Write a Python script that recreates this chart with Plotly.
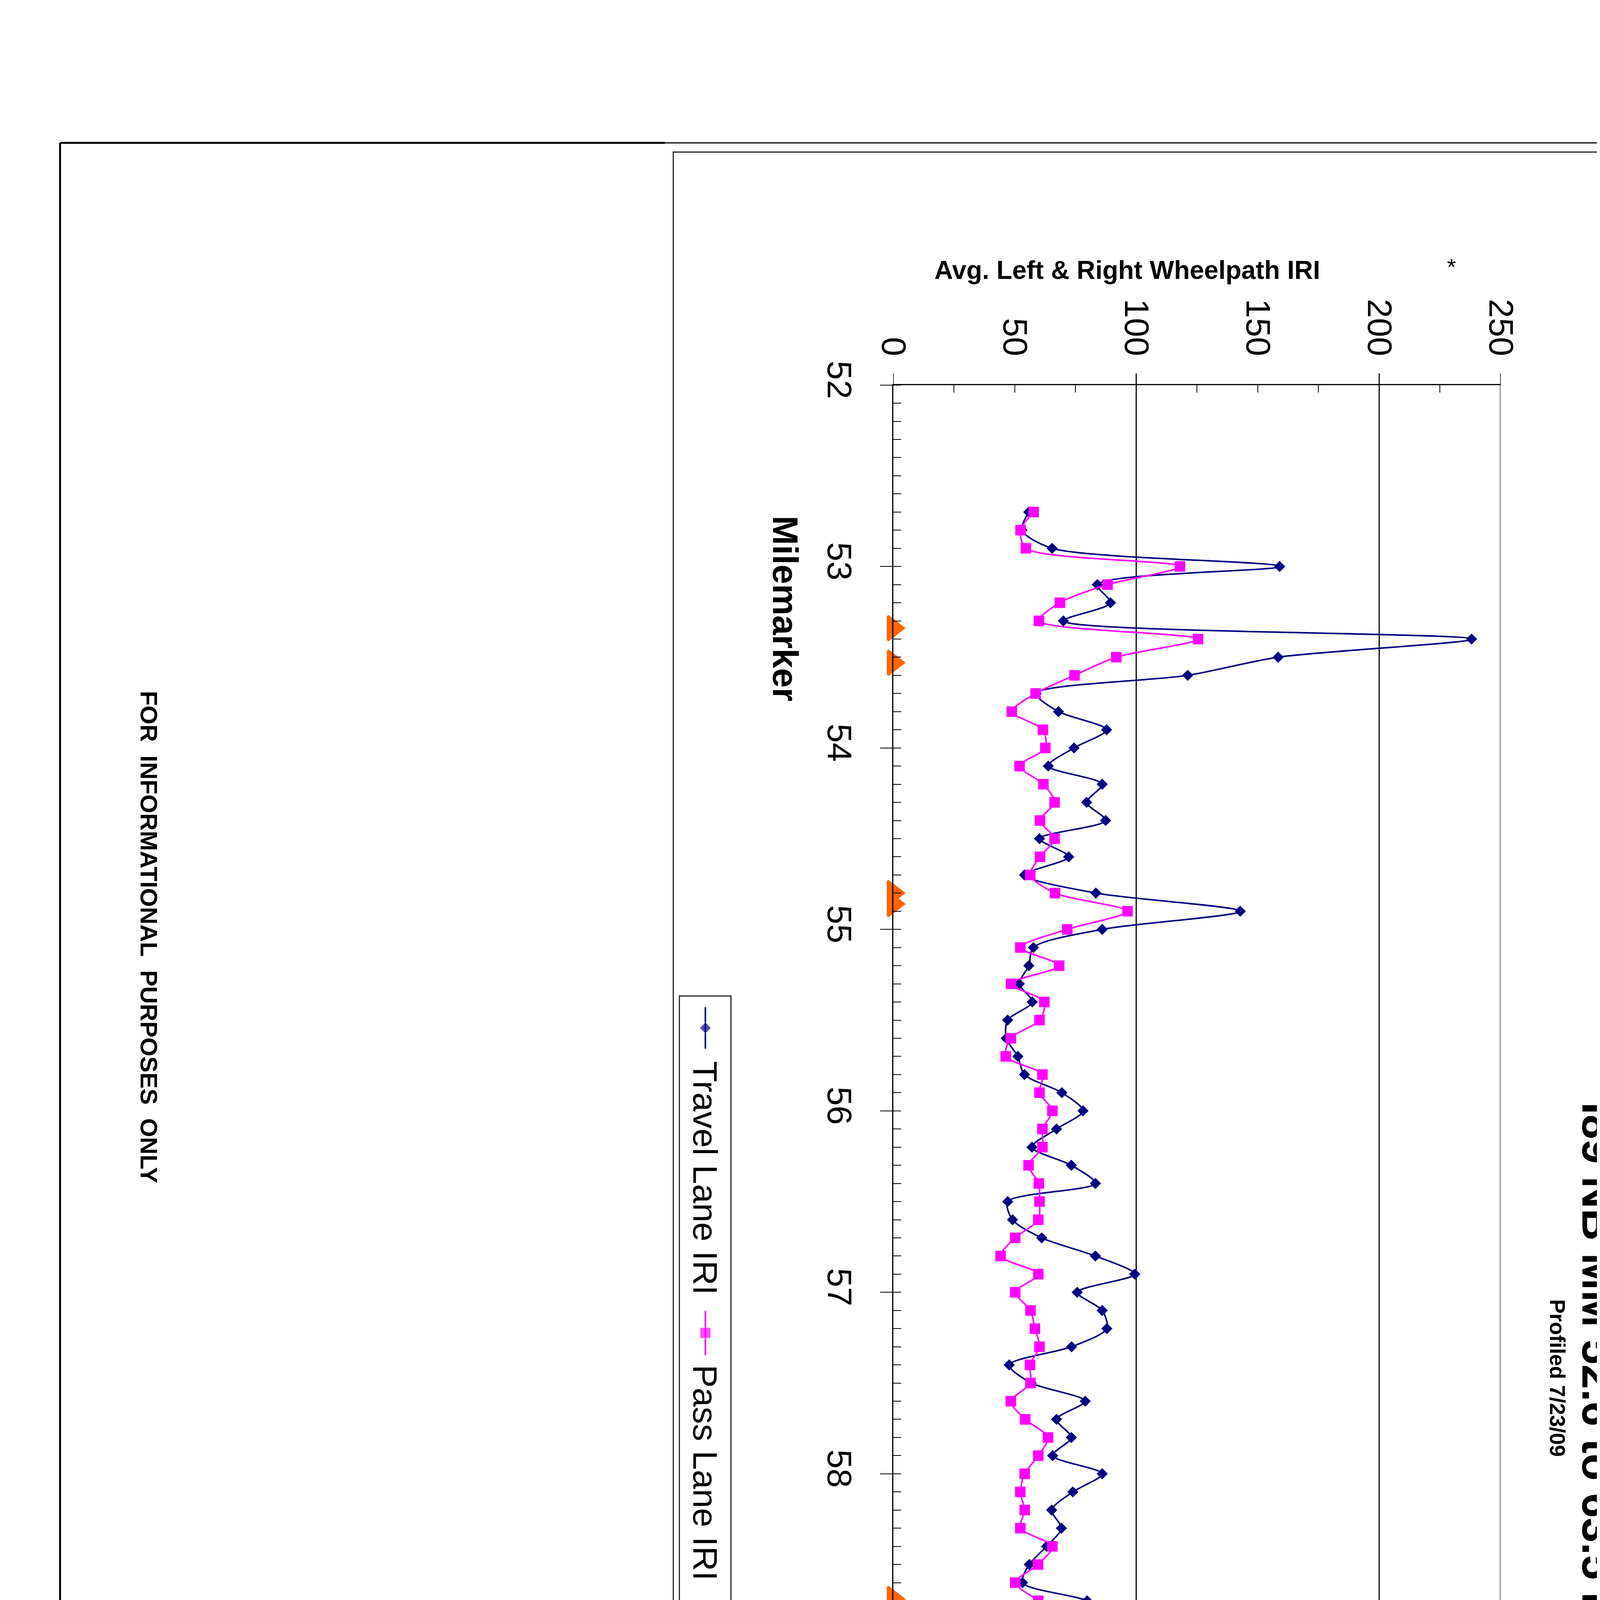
import plotly.graph_objects as go

W, H = 4400, 6800
K = 1.0  # render scale

# milepost of every reading (0.1 mile steps)
mileposts = [round(52.7 + 0.1 * i, 1) for i in range(109)]

travel_iri = [55.8, 53.0, 65.4, 159.0, 84.0, 89.4, 70.0, 238.0, 158.4, 121.2,
              58.8, 68.0, 87.8, 74.4, 63.8, 86.0, 79.6, 87.4, 60.2, 72.2,
              54.0, 83.4, 142.8,
              86.0, 57.7, 55.8, 51.9, 57.2, 47.1, 46.5, 51.3, 54.0, 69.4,
              78.1, 67.2, 57.1, 73.3, 83.2, 47.1, 49.1, 61.1, 83.2, 99.4,
              75.7, 86.0, 87.9, 73.4, 47.7, 56.8, 79.0, 67.2, 73.3, 65.6,
              86.0, 73.9, 65.2, 69.2, 63.1, 56.0, 53.2, 79.8, 91.1, 61.7,
              57.2, 56.9, 83.2, 69.8, 99.8, 77.1, 53.5, 65.3, 55.5, 57.2,
              56.0, 65.3, 64.1, 51.8, 53.2, 61.3, 53.8, 49.8, 59.4, 65.6,
              65.2, 83.8, 83.2, 81.8, 74.0, 56.0, 79.9, 85.2, 94.1, 59.3,
              60.7, 69.4, 90.0, 75.9, 57.2, 64.1, 67.3, 43.1, 53.5, 59.4,
              61.9, 65.8, 49.9, 43.1, 47.7, 93.3]

pass_iri = [57.8, 52.4, 54.6, 118.0, 88.2, 68.6, 60.0, 125.4, 91.8, 74.6,
            58.6, 48.8, 61.6, 62.6, 52.0, 61.8, 66.4, 60.4, 66.4, 60.4,
            56.4, 66.6, 96.4,
            71.6, 52.3, 68.3, 48.5, 62.2, 60.2, 48.4, 46.3, 61.4, 60.2,
            65.5, 61.4, 61.4, 55.7, 59.9, 60.2, 59.7, 50.2, 44.2, 59.7,
            50.2, 56.5, 58.3, 60.2, 56.3, 56.5, 48.4, 54.3, 63.7, 59.7,
            54.1, 52.3, 54.1, 52.3, 65.5, 59.6, 50.2, 59.7, 67.7, 58.3,
            57.4, 57.4, 53.5, 58.3, 60.2, 52.3, 56.5, 44.2, 39.3, 44.2,
            51.6, 47.4, 48.4, 45.6, 59.7, 57.5, 48.4, 64.2, 47.4, 42.3,
            46.3, 54.3, 48.4, 53.5, 54.3, 59.7, 67.5, 64.2, 64.2, 62.1,
            63.6, 57.5, 52.3, 42.3, 48.4, 52.3, 78.1, 63.8, 53.5, 46.3,
            48.4, 53.5, 64.2, 55.7, 53.5, 69.5]

bridge_mm = [53.34, 53.53, 54.80, 54.86, 58.69, 58.74, 63.47, 63.56]

iri_ticks = [0, 25, 50, 75, 100, 125, 150, 175, 200, 225, 250]
iri_labels = ["0", "", "50", "", "100", "", "150", "", "200", "", "250"]

NAVY = "#000080"
PINK = "#FF00FF"
ORANGE = "#FF6600"
FONT = "Liberation Sans, Arial, sans-serif"

# plot area on the page (pixels)
PL, PR, PT, PB = 2282, 3873, 929, 6585


def px(x):
    return x / W


def py(y):
    return 1 - y / H


def k(v):
    return v * K


fig = go.Figure()

fig.add_trace(go.Scatter(
    x=travel_iri, y=mileposts, mode="lines+markers", name="Travel Lane IRI",
    line=dict(color=NAVY, width=k(4), shape="spline", smoothing=0.8),
    marker=dict(symbol="diamond", size=k(22), color=NAVY)))
fig.add_trace(go.Scatter(
    x=pass_iri, y=mileposts, mode="lines+markers", name="Pass Lane IRI",
    line=dict(color=PINK, width=k(4), shape="spline", smoothing=0.8),
    marker=dict(symbol="square", size=k(27), color=PINK)))
fig.add_trace(go.Scatter(
    x=[0] * len(bridge_mm), y=bridge_mm, mode="markers", name="Bridge Limits",
    marker=dict(symbol="triangle-right", size=k(54), color=ORANGE,
                line=dict(color=ORANGE, width=k(6))),
    cliponaxis=False))

# legend glyphs (drawn rotated, on a hidden page-pixel overlay)
fig.add_trace(go.Scatter(
    x=[1790, 1790, 1790], y=[2545, 2599, 2653], mode="lines+markers",
    line=dict(color=NAVY, width=k(4)),
    marker=dict(symbol="diamond", size=[0, k(22), 0], color=NAVY),
    xaxis="x2", yaxis="y2", showlegend=False, hoverinfo="skip"))
fig.add_trace(go.Scatter(
    x=[1790, 1790, 1790], y=[3334, 3391, 3449], mode="lines+markers",
    line=dict(color=PINK, width=k(4)),
    marker=dict(symbol="square", size=[0, k(27), 0], color=PINK),
    xaxis="x2", yaxis="y2", showlegend=False, hoverinfo="skip"))
fig.add_trace(go.Scatter(
    x=[1780], y=[4135], mode="markers",
    marker=dict(symbol="triangle-right", size=k(54), color=ORANGE,
                line=dict(color=ORANGE, width=k(6))),
    xaxis="x2", yaxis="y2", showlegend=False, hoverinfo="skip"))

shapes = []


def line(x0, y0, x1, y1, w=3, color="black"):
    shapes.append(dict(type="line", xref="paper", yref="paper",
                       x0=px(x0), y0=py(y0), x1=px(x1), y1=py(y1),
                       line=dict(color=color, width=k(w))))


# page frame
line(100, 300, 100, 6702, 5)
line(100, 300, 1684, 300, 5)
line(1684, 300, 4297, 300, 3)
line(100, 6702, 4297, 6702, 5)
line(4297, 300, 4297, 6702, 3)
shapes.append(dict(type="rect", xref="paper", yref="paper",
                   x0=px(1706), x1=px(4279), y0=py(6686), y1=py(324),
                   line=dict(color="#222222", width=k(3))))
# title block
shapes.append(dict(type="rect", xref="paper", yref="paper",
                   x0=px(100), x1=px(500), y0=py(6702), y1=py(4439),
                   line=dict(color="black", width=k(5))))
line(100, 5102, 500, 5102, 5)
line(334, 5102, 334, 6702, 4)
# legend box
shapes.append(dict(type="rect", xref="paper", yref="paper",
                   x0=px(1722), x1=px(1857), y0=py(4758), y1=py(2516),
                   line=dict(color="#222222", width=k(3))))

# gridlines at 100 / 200 and the ticks standing above the top axis
for v in [100, 200]:
    shapes.append(dict(type="line", xref="x", yref="paper", x0=v, x1=v,
                       y0=py(PB), y1=py(PT - 30), layer="below",
                       line=dict(color="black", width=k(3))))
for v in [0, 250]:
    shapes.append(dict(type="line", xref="x", yref="paper", x0=v, x1=v,
                       y0=py(PT), y1=py(PT - 30),
                       line=dict(color="black", width=k(3))))
# grey plot-area border, right and bottom
shapes.append(dict(type="line", xref="x", yref="paper", x0=250, x1=250,
                   y0=py(PB), y1=py(PT),
                   line=dict(color="#808080", width=k(5))))
shapes.append(dict(type="line", xref="x", yref="y", x0=0, x1=250,
                   y0=64, y1=64, line=dict(color="#808080", width=k(5))))

ann = []


def text(t, x, y, size, bold=False, angle=90, family=FONT, yanchor="middle",
         xanchor="center"):
    if bold:
        t = "<b>" + t + "</b>"
    ann.append(dict(text=t, x=px(x), y=py(y), xref="paper", yref="paper",
                    showarrow=False, textangle=angle, xanchor=xanchor,
                    yanchor=yanchor, font=dict(family=family, size=k(size),
                                               color="black")))


S = "\u00a0"
text("I89 NB MM 52.6 to 63.5 IRI", 4127, 3502, 114, bold=True)
text("Profiled 7/23/09", 4021, 3508, 55, bold=True)
text("Avg. Left &amp; Right Wheelpath IRI", 2895, 630, 66, bold=True, angle=0)
text("*", 3744, 622, 60, angle=0)
text("Milemarker", 1999, 1509, 90, bold=True)

text("Travel Lane IRI", 1790, 2683, 88, yanchor="top")
text("Pass Lane IRI", 1790, 3472, 88, yanchor="top")
text("Bridge Limits", 1790, 4222, 88, yanchor="top")

text("FOR" + S * 2 + "INFORMATIONAL" + S * 2 + "PURPOSES" + S * 2 + "ONLY",
     333, 2363, 62, bold=True)

text("ROUGHNESS", 434, 4740, 72, bold=True)
text("DATA", 343, 4743, 72, bold=True)
text("INFORMATION", 249, 4742, 72, bold=True)
text("NB" + S * 2 + "LANE" + S * 2 + "SHEET", 152, 4772, 72, bold=True)

small = [
    ("PROJECT NAME:", 456, 5140, 42),
    ("BERLIN" + S * 2 + "-" + S * 2 + "WATERBURY", 460, 5517, 60),
    ("PROJECT NUMBER:", 384, 5140, 42),
    ("IM" + S * 2 + "SURF" + S * 2 + "(20)", 386, 5678, 62),
    ("FILE NAME: /pave/09a382/p09a382.dgn", 294, 5140, 44),
    ("PROJECT LEADER:" + S * 3 + "MIKE FOWLER", 242, 5140, 44),
    ("DESIGNED BY: WILDER", 191, 5140, 44),
    ("IPARM FILE NAME: p09a382_18.1", 139, 5140, 44),
    ("PLOT DATE: 08-JUN-2010", 295, 6082, 44),
    ("DRAWN BY: WILDER", 240, 6082, 44),
    ("CHECKED BY:" + S * 3 + "PAVT MGMT", 189, 6082, 40),
    ("SHEET" + S * 3 + "18" + S * 3 + "OF" + S * 3 + "63", 136, 6082, 44),
]
for t, x, y, s in small:
    text(t, x, y, s, yanchor="top")

fig.update_layout(
    width=round(W * K), height=round(H * K),
    margin=dict(l=0, r=0, t=0, b=0, pad=0),
    paper_bgcolor="white", plot_bgcolor="rgba(0,0,0,0)",
    showlegend=False,
    font=dict(family=FONT, color="black"),
    shapes=shapes, annotations=ann,
    xaxis=dict(domain=[px(PL), px(PR)], range=[0, 250], side="top",
               anchor="y", showline=True, linecolor="black", linewidth=k(3),
               tickmode="array", tickvals=iri_ticks, ticktext=iri_labels,
               ticks="inside", ticklen=k(19), tickwidth=k(2),
               tickcolor="black", ticklabelstandoff=round(k(40)),
               tickangle=90, tickfont=dict(size=k(88), family=FONT),
               showgrid=False, zeroline=False),
    yaxis=dict(domain=[py(PB), py(PT)], range=[64, 52], anchor="x",
               showline=True, linecolor="black", linewidth=k(3),
               tickmode="linear", tick0=52, dtick=1,
               ticks="outside", ticklen=k(31), tickwidth=k(2),
               tickcolor="black", ticklabelstandoff=round(k(28)),
               minor=dict(tick0=52, dtick=0.1, ticks="inside",
                          ticklen=k(20), tickwidth=k(2), tickcolor="black"),
               tickangle=90, tickfont=dict(size=k(88), family=FONT),
               showgrid=False, zeroline=False),
    xaxis2=dict(domain=[0, 1], range=[0, W], anchor="y2", visible=False),
    yaxis2=dict(domain=[0, 1], range=[H, 0], anchor="x2", visible=False),
)

fig.write_html("out.html")
